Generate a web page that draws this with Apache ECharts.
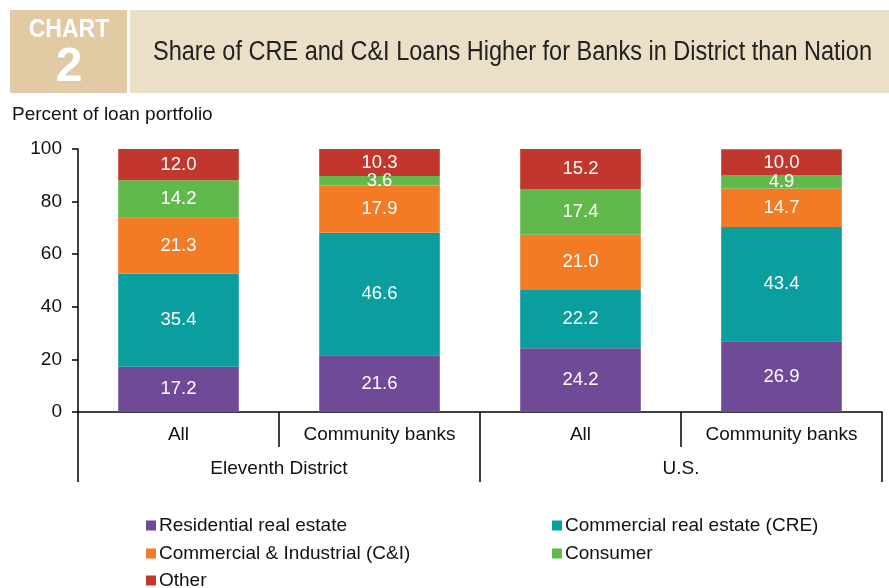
<!DOCTYPE html>
<html>
<head>
<meta charset="utf-8">
<script src="https://cdn.jsdelivr.net/npm/echarts@6/dist/echarts.min.js"></script>
<style>
  html, body { margin: 0; padding: 0; background: #fff; }
  #chart { width: 889px; height: 588px; }
</style>
</head>
<body>
<div id="chart"></div>
<script>
const categories = ['All', 'Community banks', 'All', 'Community banks']
const groups = ['Eleventh District', 'U.S.']
const residential = [17.2, 21.6, 24.2, 26.9]
const cre = [35.4, 46.6, 22.2, 43.4]
const cni = [21.3, 17.9, 21.0, 14.7]
const consumer = [14.2, 3.6, 17.4, 4.9]
const other = [12.0, 10.3, 15.2, 10.0]
const yTicks = [0, 20, 40, 60, 80, 100]

const font = '"Liberation Sans", Arial, sans-serif'
const title = 'Share of CRE and C&I Loans Higher for Banks in District than Nation'
const titleFont = '27px "Liberation Sans", Arial'

// squeeze the header title to look like the condensed face of the original
const measure = document.createElement('canvas').getContext('2d')
measure.font = titleFont
const titleScale = 719 / measure.measureText(title).width

const labelOptions = {
  show: true,
  position: 'inside',
  color: '#fff',
  fontSize: 18.5,
  fontFamily: font,
  formatter: p => p.value.toFixed(1)
}

const seriesDefs = [
  { name: 'Residential real estate', data: residential, color: '#6f4a97' },
  { name: 'Commercial real estate (CRE)', data: cre, color: '#0a9e9e' },
  { name: 'Commercial & Industrial (C&I)', data: cni, color: '#f37b25' },
  { name: 'Consumer', data: consumer, color: '#62b94b' },
  { name: 'Other', data: other, color: '#c1372e' }
]

const seriesArr = seriesDefs.map(s => ({
  name: s.name,
  type: 'bar',
  stack: 'total',
  barWidth: '60%',
  data: s.data,
  itemStyle: { color: s.color },
  label: labelOptions
}))

// one legend per entry, laid out in two columns like the original
const legendPos = [[146, 516], [552, 516], [146, 544], [552, 544], [146, 571]]
const legendArr = seriesDefs.map((s, i) => ({
  left: legendPos[i][0],
  top: legendPos[i][1],
  padding: 0,
  itemWidth: 10,
  itemHeight: 10,
  icon: 'rect',
  textStyle: { fontSize: 19, fontFamily: font, color: '#111', padding: [0, 0, 0, -2] },
  data: [s.name]
}))

const option = {
  animation: false,
  textStyle: { fontFamily: font },
  graphic: [
    { type: 'rect', shape: { x: 10, y: 10, width: 117, height: 83 }, style: { fill: '#e2cba4' } },
    { type: 'rect', shape: { x: 130, y: 10, width: 759, height: 83 }, style: { fill: '#ebdfc7' } },
    { type: 'text', x: 69, y: 30, scaleX: 0.92, style: { text: 'CHART', fill: '#fff', font: 'bold 25px "Liberation Sans", Arial', align: 'center', verticalAlign: 'middle' } },
    { type: 'text', x: 69, y: 68, style: { text: '2', fill: '#fff', font: 'bold 48px "Liberation Sans", Arial', align: 'center', verticalAlign: 'middle' } },
    { type: 'text', x: 153, y: 53, scaleX: titleScale, style: { text: title, fill: '#222', font: titleFont, verticalAlign: 'middle' } },
    { type: 'text', x: 12, y: 115, style: { text: 'Percent of loan portfolio', fill: '#111', font: '19px "Liberation Sans", Arial', verticalAlign: 'middle' } }
  ],
  legend: legendArr,
  grid: { left: 78, right: 7, top: 149, bottom: 176 },
  xAxis: [
    {
      type: 'category',
      data: categories,
      axisLine: { lineStyle: { color: '#000', width: 1.5 } },
      axisTick: { show: true, length: 35, lineStyle: { color: '#000', width: 1.5 } },
      axisLabel: { color: '#111', fontSize: 19, margin: 13 }
    },
    {
      type: 'category',
      data: groups,
      position: 'bottom',
      offset: 35,
      axisLine: { show: false },
      axisTick: { show: true, length: 35, lineStyle: { color: '#000', width: 1.5 } },
      axisLabel: { color: '#111', fontSize: 19, margin: 12 }
    }
  ],
  yAxis: {
    type: 'value',
    min: yTicks[0],
    max: yTicks[yTicks.length - 1],
    interval: 20,
    axisLine: { show: true, lineStyle: { color: '#000', width: 1.5 } },
    axisTick: { show: true, length: 6, lineStyle: { color: '#000', width: 1.5 } },
    axisLabel: { color: '#111', fontSize: 19, margin: 16 },
    splitLine: { show: false }
  },
  series: seriesArr
}

const chart = echarts.init(document.getElementById('chart'))
chart.setOption(option)
</script>
</body>
</html>
